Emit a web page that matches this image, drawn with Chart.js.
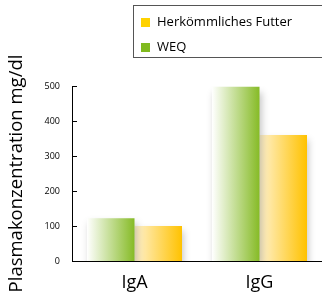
<!DOCTYPE html>
<html>
<head>
<meta charset="utf-8">
<script src="https://cdn.jsdelivr.net/npm/chart.js@4"></script>
<style>
  body { margin: 0; background: #fff; }
  #wrap { position: relative; width: 322px; height: 298px; }
  #legend {
    position: absolute; left: 133px; top: 5px; width: 195px; height: 53px;
    border: 1px solid #555; box-sizing: border-box;
    font-family: "Open Sans", sans-serif; font-size: 13px; color: #000;
  }
  .item { position: absolute; left: 7px; height: 14px; line-height: 14px; }
  .item span { display: inline-block; width: 9px; height: 9px; margin-right: 7px; vertical-align: -1px; }
</style>
</head>
<body>
<div id="wrap">
  <canvas id="myBarChart" width="322" height="298"></canvas>
  <div id="legend"></div>
</div>
<script>
const categories = ['IgA', 'IgG'];
const weqValues = [122, 498];
const futterValues = [100, 360];
const yTicks = [0, 100, 200, 300, 400, 500];

const seriesNames = ['WEQ', 'Herkömmliches Futter'];
const legendOrder = [1, 0];
const legendColors = ['#80ba1e', '#ffd200'];
const gradStops = [
    ['rgba(255,255,255,1)', '#86bb26'],
    ['#fff2d0', '#ffc200']
];
const catPct = 0.76;

// legend (html, order as in the picture)
const legend = document.getElementById('legend');
legendOrder.forEach((s, k) => {
    const div = document.createElement('div');
    div.className = 'item';
    div.style.top = (k === 0 ? 8 : 33) + 'px';
    div.innerHTML = '<span style="background:' + legendColors[s] + '"></span>' + seriesNames[s];
    legend.appendChild(div);
});

// horizontal gradient per bar, worked out from the x scale
function barGradient(context) {
    const chart = context.chart;
    const xs = chart.scales.x;
    if (!xs || !chart.chartArea) return legendColors[context.datasetIndex];
    const center = xs.getPixelForValue(context.dataIndex);
    const w = xs.width / categories.length * catPct / 2;
    const left = context.datasetIndex === 0 ? center - w : center;
    const g = chart.ctx.createLinearGradient(left, 0, left + w, 0);
    g.addColorStop(0, gradStops[context.datasetIndex][0]);
    g.addColorStop(1, gradStops[context.datasetIndex][1]);
    return g;
}

// soft shadow under the bars
const shadowPlugin = {
    id: 'shadow',
    beforeDatasetsDraw(chart) {
        const ctx = chart.ctx;
        ctx.save();
        ctx.shadowColor = 'rgba(0,0,0,0.22)';
        ctx.shadowBlur = 7;
        ctx.shadowOffsetX = 2;
        ctx.shadowOffsetY = 5;
    },
    afterDatasetsDraw(chart) {
        chart.ctx.restore();
    }
};

// short tick marks pointing into the plot
const innerTicks = {
    id: 'innerTicks',
    afterDraw(chart) {
        const ctx = chart.ctx;
        const ys = chart.scales.y;
        ctx.save();
        ctx.strokeStyle = '#000';
        ctx.lineWidth = 1;
        yTicks.forEach(v => {
            const py = Math.round(ys.getPixelForValue(v)) + 0.5;
            ctx.beginPath();
            ctx.moveTo(ys.right, py);
            ctx.lineTo(ys.right + 5, py);
            ctx.stroke();
        });
        ctx.restore();
    }
};

const ctx = document.getElementById('myBarChart').getContext('2d');
new Chart(ctx, {
    type: 'bar',
    data: {
        labels: categories,
        datasets: [{
            label: seriesNames[0],
            data: weqValues,
            backgroundColor: barGradient,
            borderWidth: 0
        }, {
            label: seriesNames[1],
            data: futterValues,
            backgroundColor: barGradient,
            borderWidth: 0
        }]
    },
    options: {
        responsive: false,
        animation: false,
        layout: { padding: { top: 86, right: 0, bottom: 0, left: 0 } },
        datasets: { bar: { categoryPercentage: catPct, barPercentage: 1 } },
        plugins: {
            legend: { display: false },
            tooltip: { enabled: false }
        },
        scales: {
            x: {
                grid: { display: false, drawTicks: false },
                border: { display: true, color: '#000', width: 1 },
                ticks: {
                    color: '#000',
                    padding: 11,
                    font: { family: 'Open Sans', size: 18 }
                },
                afterFit: s => { s.height = 37; }
            },
            y: {
                min: 0,
                max: 500,
                afterBuildTicks: s => { s.ticks = yTicks.map(v => ({ value: v })); },
                grid: { display: false, drawTicks: false },
                border: { display: true, color: '#000', width: 1 },
                ticks: {
                    color: '#000',
                    padding: 12,
                    font: { family: 'Open Sans', size: 9 }
                },
                title: {
                    display: true,
                    text: 'Plasmakonzentration mg/dl',
                    color: '#000',
                    padding: { top: 6, bottom: 0 },
                    font: { family: 'Open Sans', size: 18.5 }
                },
                afterFit: s => { s.width = 72; }
            }
        }
    },
    plugins: [shadowPlugin, innerTicks]
});
</script>
</body>
</html>
